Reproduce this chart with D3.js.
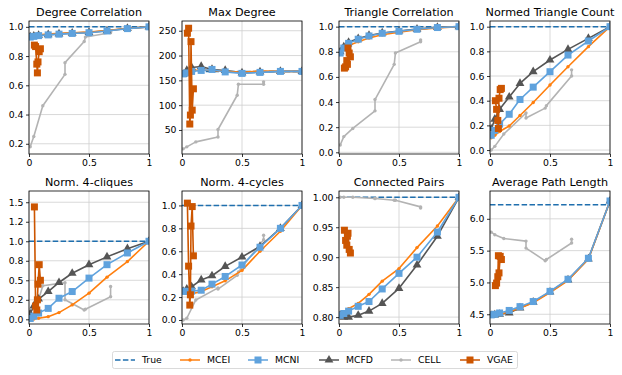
<!DOCTYPE html>
<html>
<head>
<meta charset="utf-8">
<script src="https://cdn.jsdelivr.net/npm/d3@7"></script>
<style>
  body { margin: 0; background: #fff; }
  svg { display: block; font-family: "DejaVu Sans", sans-serif; }
</style>
</head>
<body>
<div id="container"></div>
<script>
// edge-overlap grid shared by the MC methods
const mcX = [0.01, 0.04, 0.08, 0.16, 0.25, 0.36, 0.5, 0.65, 0.82, 1.0];
const cellX = [0.01, 0.04, 0.115, 0.30, 0.30, 0.46, 0.47, 0.68, 0.68];
const vgaeX = [0.045, 0.055, 0.065, 0.07, 0.075, 0.085, 0.095];

const titles = ['Degree Correlation', 'Max Degree', 'Triangle Correlation', 'Normed Triangle Count',
  'Norm. 4-cliques', 'Norm. 4-cycles', 'Connected Pairs', 'Average Path Length'];

const trueVals = [1.0, 168, 1.0, 1.0, 1.0, 1.0, 1.0, 6.22];

const mcei = [
  [0.935, 0.94, 0.945, 0.95, 0.955, 0.96, 0.965, 0.975, 0.99, 1.0],
  [164, 166, 170, 171, 170, 168, 166, 169, 168, 168],
  [0.78, 0.82, 0.85, 0.88, 0.91, 0.935, 0.955, 0.975, 0.99, 1.0],
  [0.10, 0.12, 0.15, 0.195, 0.28, 0.385, 0.527, 0.675, 0.838, 1.0],
  [0.0, 0.005, 0.013, 0.034, 0.086, 0.185, 0.335, 0.54, 0.74, 1.0],
  [0.24, 0.235, 0.228, 0.248, 0.29, 0.342, 0.433, 0.60, 0.775, 1.0],
  [0.805, 0.808, 0.814, 0.823, 0.838, 0.86, 0.881, 0.916, 0.952, 1.0],
  [4.47, 4.48, 4.50, 4.54, 4.60, 4.68, 4.84, 5.03, 5.37, 6.28]
];
const mcni = [
  [0.93, 0.935, 0.94, 0.945, 0.95, 0.955, 0.96, 0.972, 0.988, 1.0],
  [163, 165, 168, 170, 172, 167, 164, 166, 168, 168],
  [0.79, 0.83, 0.867, 0.9, 0.926, 0.947, 0.963, 0.979, 0.993, 1.0],
  [0.12, 0.16, 0.21, 0.29, 0.41, 0.51, 0.635, 0.77, 0.884, 1.0],
  [0.01, 0.04, 0.08, 0.14, 0.27, 0.356, 0.528, 0.70, 0.85, 1.0],
  [0.25, 0.25, 0.252, 0.26, 0.313, 0.38, 0.48, 0.635, 0.80, 1.0],
  [0.803, 0.806, 0.81, 0.818, 0.826, 0.847, 0.873, 0.90, 0.942, 1.0],
  [4.49, 4.50, 4.52, 4.56, 4.62, 4.70, 4.86, 5.05, 5.38, 6.28]
];
const mcfd = [
  [0.932, 0.937, 0.942, 0.947, 0.952, 0.957, 0.962, 0.973, 0.989, 1.0],
  [162, 170, 176, 178, 172, 170, 165, 167, 168, 168],
  [0.80, 0.84, 0.875, 0.905, 0.93, 0.95, 0.965, 0.98, 0.994, 1.0],
  [0.17, 0.25, 0.33, 0.43, 0.54, 0.635, 0.73, 0.816, 0.905, 1.0],
  [0.07, 0.17, 0.26, 0.356, 0.472, 0.59, 0.70, 0.80, 0.905, 1.0],
  [0.25, 0.27, 0.29, 0.35, 0.386, 0.468, 0.55, 0.643, 0.80, 1.0],
  [0.803, 0.80, 0.80, 0.803, 0.81, 0.823, 0.848, 0.887, 0.935, 1.0],
  [4.48, 4.49, 4.50, 4.52, 4.60, 4.69, 4.85, 5.04, 5.37, 6.28]
];
const cell = [
  [0.18, 0.25, 0.46, 0.675, 0.755, 0.90, 0.93, 0.96, 0.97],
  [12, 16, 26, 36, 51, 120, 142, 142, 147],
  [0.058, 0.125, 0.19, 0.33, 0.42, 0.70, 0.79, 0.88, 0.894],
  [0.0, 0.03, 0.13, 0.30, 0.26, 0.34, 0.36, 0.60, 0.65],
  [0.0, 0.05, 0.43, 0.47, 0.25, 0.12, 0.13, 0.29, 0.42],
  [0.0, 0.015, 0.175, 0.28, 0.27, 0.39, 0.42, 0.70, 0.74],
  [1.0, 1.0, 1.0, 0.998, 0.998, 0.995, 0.995, 0.984, 0.982],
  [5.79, 5.75, 5.69, 5.65, 5.54, 5.34, 5.36, 5.62, 5.68]
];
const vgae = [
  [0.875, 0.865, 0.745, 0.685, 0.76, 0.83, 0.85],
  [245, 255, 62, 80, 228, 90, 133],
  [0.67, 0.68, 0.73, 0.70, 0.83, 0.79, 0.76],
  [0.40, 0.33, 0.24, 0.175, 0.42, 0.49, 0.50],
  [1.44, 0.17, 0.12, 0.25, 0.45, 0.70, 0.50],
  [1.02, 0.47, 0.13, 0.22, 0.82, 0.99, 0.56],
  [0.945, 0.928, 0.92, 0.935, 0.94, 0.913, 0.907],
  [4.95, 4.99, 5.09, 5.42, 5.15, 5.41, 5.36]
];

const yTicks = [
  [0.2, 0.4, 0.6, 0.8, 1.0],
  [50, 100, 150, 200, 250],
  [0.0, 0.2, 0.4, 0.6, 0.8, 1.0],
  [0.0, 0.2, 0.4, 0.6, 0.8, 1.0],
  [0, 0.25, 0.5, 0.75, 1.0, 1.25, 1.5],
  [0.0, 0.2, 0.4, 0.6, 0.8, 1.0],
  [0.80, 0.85, 0.90, 0.95, 1.00],
  [4.5, 5.0, 5.5, 6.0]
];
const yTickLabels = [
  ['0.2', '0.4', '0.6', '0.8', '1.0'],
  ['50', '100', '150', '200', '250'],
  ['0.0', '0.2', '0.4', '0.6', '0.8', '1.0'],
  ['0.0', '0.2', '0.4', '0.6', '0.8', '1.0'],
  ['0.0', '0.2', '0.5', '0.8', '1.0', '1.2', '1.5'],
  ['0.0', '0.2', '0.4', '0.6', '0.8', '1.0'],
  ['0.80', '0.85', '0.90', '0.95', '1.00'],
  ['4.5', '5.0', '5.5', '6.0']
];
const xTicks = [0, 0.5, 1];
const xTickLabels = ['0', '0.5', '1'];

// y limits as matplotlib picked them
const yLims = [
  [0.13, 1.04], [1.6, 269.6], [-0.0135, 1.045], [-0.032, 1.046],
  [-0.06, 1.644], [-0.035, 1.126], [0.7885, 1.0105], [4.347, 6.437]
];

const W = 622, H = 375;
const colLeft = [29, 182, 339, 490];
const rowTop = [21, 191];
const pw = 120, ph = 133;
const tickFont = 9.3, titleFont = 11.2;

const series = [
  { name: 'MCEI', color: '#ff7f0e', marker: 'dot', r: 1.7, xs: mcX, ys: mcei },
  { name: 'MCNI', color: '#5fa2dd', marker: 'square', r: 3.5, xs: mcX, ys: mcni },
  { name: 'MCFD', color: '#555555', marker: 'triangle', r: 3.6, xs: mcX, ys: mcfd },
  { name: 'CELL', color: '#b3b3b3', marker: 'dot', r: 1.7, xs: cellX, ys: cell },
  { name: 'VGAE', color: '#cc5500', marker: 'square', r: 3.5, xs: vgaeX, ys: vgae }
];
const drawOrder = ['CELL', 'MCFD', 'MCEI', 'MCNI', 'VGAE'];
const trueColor = '#1f6fae';

const svg = d3.select('#container').append('svg')
  .attr('width', W).attr('height', H);

function drawMarker(g, type, x, y, r, color) {
  if (type === 'square') {
    g.append('rect').attr('x', x - r).attr('y', y - r)
      .attr('width', 2 * r).attr('height', 2 * r).attr('fill', color);
  } else if (type === 'triangle') {
    g.append('path')
      .attr('d', d3.symbol(d3.symbolTriangle, r * r * 2.6)())
      .attr('transform', `translate(${x},${y})`)
      .attr('fill', color);
  } else {
    g.append('circle').attr('cx', x).attr('cy', y).attr('r', r).attr('fill', color);
  }
}

titles.forEach((title, i) => {
  const left = colLeft[i % 4];
  const top = rowTop[Math.floor(i / 4)];
  const x = d3.scaleLinear().domain([0, 1]).range([left, left + pw]);
  const y = d3.scaleLinear().domain(yLims[i]).range([top + ph, top]);

  const g = svg.append('g');
  const clipId = 'clip' + i;
  g.append('clipPath').attr('id', clipId).append('rect')
    .attr('x', left).attr('y', top).attr('width', pw).attr('height', ph);

  // grid
  g.selectAll('.gx').data(xTicks).enter().append('line')
    .attr('x1', d => x(d)).attr('x2', d => x(d))
    .attr('y1', top).attr('y2', top + ph)
    .attr('stroke', '#cfcfcf').attr('stroke-width', 0.8);
  g.selectAll('.gy').data(yTicks[i]).enter().append('line')
    .attr('x1', left).attr('x2', left + pw)
    .attr('y1', d => y(d)).attr('y2', d => y(d))
    .attr('stroke', '#cfcfcf').attr('stroke-width', 0.8);

  const plot = g.append('g').attr('clip-path', `url(#${clipId})`);

  // true value
  plot.append('line')
    .attr('x1', x(0)).attr('x2', x(1))
    .attr('y1', y(trueVals[i])).attr('y2', y(trueVals[i]))
    .attr('stroke', trueColor).attr('stroke-width', 1.5)
    .attr('stroke-dasharray', '5.5,2.4');

  drawOrder.forEach(name => {
    const s = series.find(d => d.name === name);
    const pts = s.xs.map((xv, k) => [x(xv), y(s.ys[i][k])]);
    plot.append('path')
      .attr('d', d3.line()(pts))
      .attr('fill', 'none').attr('stroke', s.color)
      .attr('stroke-width', 1.6).attr('stroke-linejoin', 'round');
    pts.forEach(p => drawMarker(plot, s.marker, p[0], p[1], s.r, s.color));
  });

  // axes
  const xAxis = d3.axisBottom(x).tickValues(xTicks)
    .tickFormat((d, k) => xTickLabels[k]).tickSize(3).tickPadding(2.5);
  const yAxis = d3.axisLeft(y).tickValues(yTicks[i])
    .tickFormat((d, k) => yTickLabels[i][k]).tickSize(3).tickPadding(2.5);
  const gx = g.append('g').attr('transform', `translate(0,${top + ph})`).call(xAxis);
  const gy = g.append('g').attr('transform', `translate(${left},0)`).call(yAxis);
  [gx, gy].forEach(a => {
    a.select('.domain').remove();
    a.selectAll('text').attr('font-size', tickFont).attr('fill', '#000')
      .attr('font-family', '"DejaVu Sans", sans-serif');
    a.selectAll('line').attr('stroke', '#000').attr('stroke-width', 0.8);
  });

  g.append('rect').attr('x', left).attr('y', top).attr('width', pw).attr('height', ph)
    .attr('fill', 'none').attr('stroke', '#000').attr('stroke-width', 0.8);

  g.append('text').attr('x', left + pw / 2).attr('y', top - 5)
    .attr('text-anchor', 'middle').attr('font-size', titleFont).text(title);
});

// legend
const legendItems = [{ name: 'True', color: trueColor, marker: null }].concat(series);
const legend = svg.append('g');
legend.append('rect').attr('x', 112.5).attr('y', 351.5).attr('width', 405).attr('height', 17)
  .attr('rx', 2).attr('fill', '#fff').attr('stroke', '#d0d0d0').attr('stroke-width', 0.8);
const legendX = [115, 180, 248, 319, 391, 460];
legendItems.forEach((it, k) => {
  const lx = legendX[k], ly = 360;
  const l = legend.append('line').attr('x1', lx).attr('x2', lx + 20)
    .attr('y1', ly).attr('y2', ly).attr('stroke', it.color).attr('stroke-width', 1.5);
  if (!it.marker) l.attr('stroke-dasharray', '5.5,2.4');
  else drawMarker(legend, it.marker, lx + 10, ly, it.r, it.color);
  legend.append('text').attr('x', lx + 27).attr('y', ly + 3.4)
    .attr('font-size', tickFont).text(it.name);
});
</script>
</body>
</html>
